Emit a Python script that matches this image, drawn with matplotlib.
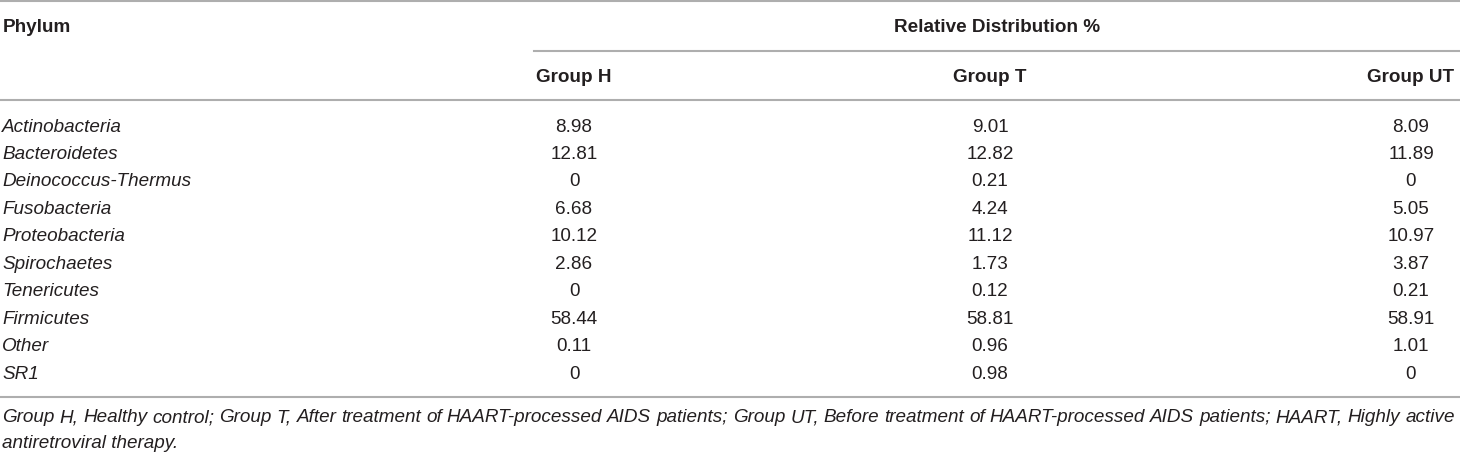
import matplotlib.pyplot as plt

# table data
phyla = ['Actinobacteria', 'Bacteroidetes', 'Deinococcus-Thermus', 'Fusobacteria',
         'Proteobacteria', 'Spirochaetes', 'Tenericutes', 'Firmicutes', 'Other', 'SR1']
groups = ['Group H', 'Group T', 'Group UT']
group_h = ['8.98', '12.81', '0', '6.68', '10.12', '2.86', '0', '58.44', '0.11', '0']
group_t = ['9.01', '12.82', '0.21', '4.24', '11.12', '1.73', '0.12', '58.81', '0.96', '0.98']
group_ut = ['8.09', '11.89', '0', '5.05', '10.97', '3.87', '0.21', '58.91', '1.01', '0']
footnote = ('Group H, Healthy control; Group T, After treatment of HAART-processed AIDS '
            'patients; Group UT, Before treatment of HAART-processed AIDS patients; HAART, '
            'Highly active antiretroviral therapy.')

W, H = 1460, 454
FONT = 'Liberation Sans'
FS = 13.6
TXT = '#231f20'
RULE = '#aeaeae'

fig = plt.figure(figsize=(W / 100, H / 100), dpi=100)
ax = fig.add_axes([0, 0, 1, 1])
ax.set_xlim(0, W)
ax.set_ylim(H, 0)
ax.axis('off')

col_x = [574, 990, 1411]
row_y0, row_dy = 127, 27.45

# rules
ax.plot([0, W], [1, 1], color=RULE, lw=1.5)
ax.plot([534, W], [51, 51], color=RULE, lw=1.5)
ax.plot([0, W], [100, 100], color=RULE, lw=1.5)
ax.plot([0, W], [397, 397], color=RULE, lw=1.5)

# header
ax.text(3, 27, 'Phylum', family=FONT, fontsize=FS, weight='bold', color=TXT, va='center')
ax.text(997, 27, 'Relative Distribution %', family=FONT, fontsize=FS, weight='bold',
        color=TXT, va='center', ha='center')
for x, g in zip(col_x, groups):
    ax.text(x, 77, g, family=FONT, fontsize=FS, weight='bold', color=TXT,
            va='center', ha='center')

# body
for i, name in enumerate(phyla):
    y = row_y0 + i * row_dy
    ax.text(2, y, name, family=FONT, fontsize=FS, style='italic', color=TXT, va='center')
    for x, vals in zip(col_x, [group_h, group_t, group_ut]):
        ax.text(x, y, vals[i], family=FONT, fontsize=FS, color=TXT,
                va='center', ha='center')

# footnote, first line justified
fig.canvas.draw()
renderer = fig.canvas.get_renderer()
words = footnote.split()
line1 = words[:-2]
line2 = words[-2:]


def width_px(s):
    t = ax.text(0, 0, s, family=FONT, fontsize=FS, style='italic')
    w = t.get_window_extent(renderer).width
    t.remove()
    return w


left, right = 2, 1455
widths = [width_px(w) for w in line1]
gap = (right - left - sum(widths)) / (len(line1) - 1)
x = left
for w, wd in zip(line1, widths):
    ax.text(x, 418, w, family=FONT, fontsize=FS, style='italic', color=TXT, va='center')
    x += wd + gap
ax.text(left, 444, ' '.join(line2), family=FONT, fontsize=FS, style='italic',
        color=TXT, va='center')

fig.savefig('out.png', dpi=100)
